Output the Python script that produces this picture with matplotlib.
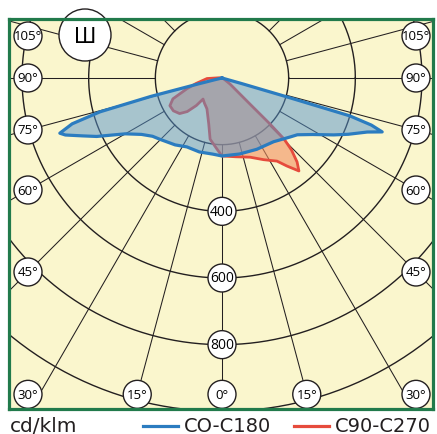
import numpy as np
import matplotlib.pyplot as plt
from matplotlib.patches import Circle
from matplotlib.lines import Line2D

# C0-C180 plane (angle from nadir in degrees, cd/klm)
c0_ang = [-180, -90, -76.5, -76, -75.5, -74.5, -73, -71.2, -70, -67.4, -65, -60, -55, -50,
          -45, -35, -27, -17, -7, 0, 13, 26, 39, 49, 53, 58, 63, 66, 69.6, 71.4,
          72.5, 73.5, 73.8, 74.2, 90, 180]
c0_val = [0, 0, 20, 70, 220, 380, 470, 514, 500, 452, 415, 335, 295, 272,
          261, 245, 232, 232, 230, 234, 234, 238, 246, 270, 283, 320, 376, 415, 465, 507,
          470, 400, 194, 60, 0, 0]

# C90-C270 plane
c90_ang = [-180, -95, -88, -78, -73, -67, -62, -56, -50, -46, -43, -42, -35, -26, -16,
           -11, -4, 0, 10, 19.5, 27, 33.5, 36.4, 39.6, 41.8, 44, 45.5, 46.2, 47, 53,
           60, 90, 180]
c90_val = [0, 8, 45, 80, 110, 160, 177, 176, 166, 145, 113, 85, 92, 103, 144,
           187, 214, 234, 240, 252, 275, 299, 328, 362, 338, 300, 261, 200, 115, 30,
           8, 0, 0]

rings = [200, 400, 600, 800, 1000, 1200]
ring_labels = [400, 600, 800]
angle_labels = [0, 15, 30, 45, 60, 75, 90, 105]

bg = '#faf6cd'
green = '#217a4b'
blue = '#2b7cc0'
red = '#e64b3c'


def to_xy(ang, val):
    a = np.radians(ang)
    v = np.asarray(val, dtype=float)
    return v * np.sin(a), -v * np.cos(a)


fig = plt.figure(figsize=(4.37, 4.35), dpi=100)
ax = fig.add_axes([9 / 437, 25 / 435, 424 / 437, 390 / 435])
ax.set_facecolor(bg)
ax.set_xlim(-639, 633)
ax.set_ylim(-993, 177)
ax.set_aspect('equal')
ax.set_xticks([])
ax.set_yticks([])
for s in ax.spines.values():
    s.set_color(green)
    s.set_linewidth(2.3)
    s.set_zorder(10)

# grid: circles and rays every 15 deg outside the first ring
t = np.linspace(0, 2 * np.pi, 400)
for r in rings:
    ax.plot(r * np.cos(t), r * np.sin(t), color='#231f20', lw=1.0, zorder=1)
for a in np.arange(-180, 181, 15):
    x, y = to_xy(a, [200, 2000])
    ax.plot(x, y, color='#231f20', lw=0.75, zorder=1)

# curves
x, y = to_xy(c90_ang, c90_val)
ax.fill(x, y, color='#f39061', alpha=0.6, lw=0, zorder=2)
ax.plot(x, y, color=red, lw=2.0, zorder=2)
x, y = to_xy(c0_ang, c0_val)
ax.fill(x, y, color='#5694cd', alpha=0.5, lw=0, zorder=3)
ax.plot(x, y, color=blue, lw=2.3, zorder=4)

# labels
rad = 42
for v in ring_labels:
    ax.add_patch(Circle((0, -v), rad, fc='white', ec='#231f20', lw=1.0, zorder=6))
    ax.text(0, -v, str(v), ha='center', va='center', fontsize=10,
            family='Open Sans', zorder=7)

xl, yb, yt = 582, -949, 126
for a in angle_labels:
    for sgn in (-1, 1):
        if a == 0 and sgn == 1:
            continue
        d = np.array([np.sin(np.radians(a)), -np.cos(np.radians(a))])
        ts = []
        if abs(d[0]) > 1e-9:
            ts.append(xl / abs(d[0]))
        if d[1] < -1e-9:
            ts.append(yb / d[1])
        px, py = d * min(ts)
        if abs(px) > 0.9 * xl:
            px = np.sign(px) * xl
        py = min(py, yt)
        px *= sgn
        ax.add_patch(Circle((px, py), rad, fc='white', ec='#231f20', lw=1.0,
                            zorder=6))
        ax.text(px, py, f'{a}°', ha='center', va='center', fontsize=9.5,
                family='Open Sans', zorder=7)

ax.add_patch(Circle((-411, 129), 78, fc='white', ec='#231f20', lw=1.0, zorder=6,
                    clip_on=False))
ax.text(-411, 127, 'Ш', ha='center', va='center', fontsize=15, zorder=7)

# bottom legend
fig.text(10 / 437, 1 - 427 / 435, 'cd/klm', ha='left', va='center', fontsize=14.5,
         color='#231f20')
fig.add_artist(Line2D([143 / 437, 178 / 437], [1 - 427 / 435] * 2, color=blue, lw=2.3))
fig.text(184 / 437, 1 - 427 / 435, 'CO-C180', ha='left', va='center', fontsize=14,
         color='#231f20')
fig.add_artist(Line2D([294 / 437, 329 / 437], [1 - 427 / 435] * 2, color=red, lw=2.3))
fig.text(335 / 437, 1 - 427 / 435, 'C90-C270', ha='left', va='center', fontsize=14,
         color='#231f20')

fig.savefig('out.png', dpi=100)
